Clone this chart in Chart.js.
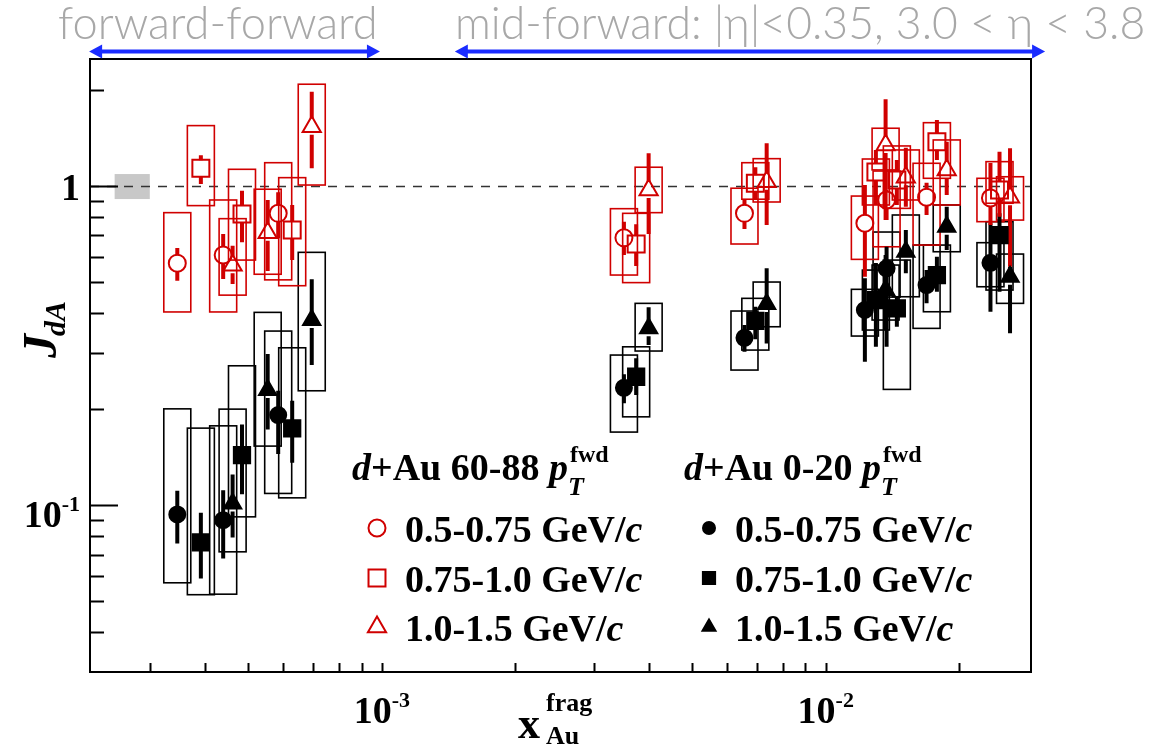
<!DOCTYPE html>
<html>
<head>
<meta charset="utf-8">
<script src="https://cdn.jsdelivr.net/npm/chart.js@4.4.1/dist/chart.umd.min.js"></script>
<style>
  html, body { margin: 0; padding: 0; background: #ffffff; }
  canvas { display: block; }
</style>
</head>
<body>
<canvas id="jdaChart" width="1161" height="747"></canvas>
<script>
// x_Au^frag of each point, shared by the two centralities (same pT bin -> same x)
const xLowPt  = [3.46e-4, 4.39e-4, 5.84e-4, 3.51e-3, 6.56e-3, 1.225e-2, 1.371e-2, 1.687e-2, 2.350e-2];
const xMidPt  = [3.91e-4, 4.84e-4, 6.28e-4, 3.74e-3, 6.94e-3, 1.297e-2, 1.446e-2, 1.780e-2, 2.463e-2];
const xHighPt = [4.61e-4, 5.53e-4, 6.95e-4, 3.99e-3, 7.36e-3, 1.364e-2, 1.515e-2, 1.873e-2, 2.601e-2];

// d+Au 60-88 (peripheral), open red markers; stat = error bar, sys = box
const periphLowY    = [0.573, 0.608, 0.821, 0.688, 0.821, 0.764, 0.904, 0.922, 0.917];
const periphLowStat = [[0.505, 0.639], [0.511, 0.707], [0.686, 0.956], [0.608, 0.773], [0.733, 0.909], [0.520, 1.007], [0.782, 0.972], [0.811, 1.024], [0.755, 1.181]];
const periphLowSys  = [[0.403, 0.825], [0.403, 0.904], [0.508, 1.183], [0.526, 0.849], [0.658, 0.984], [0.589, 0.930], [0.645, 1.114], [0.653, 1.178], [0.773, 1.057]];

const periphMidY    = [1.136, 0.817, 0.728, 0.658, 1.020, 1.106, 1.044, 1.377, 0.972];
const periphMidStat = [[1.015, 1.248], [0.666, 0.967], [0.586, 0.872], [0.561, 0.759], [0.909, 1.145], [0.872, 1.297], [0.872, 1.206], [1.206, 1.610], [0.801, 1.281]];
const periphMidSys  = [[0.868, 1.546], [0.586, 1.128], [0.487, 1.062], [0.498, 0.821], [0.909, 1.183], [0.872, 1.215], [0.851, 1.335], [1.057, 1.579], [0.883, 1.192]];

const periphHighY    = [0.565, 0.714, 1.534, 0.972, 1.032, 1.344, 1.065, 1.123, 0.922];
const periphHighStat = [[0.493, 0.650], [0.542, 0.904], [1.136, 1.975], [0.707, 1.266], [0.755, 1.361], [0.782, 1.870], [0.861, 1.318], [0.937, 1.377], [0.558, 1.313]];
const periphHighSys  = [[0.455, 0.790], [0.529, 0.977], [1.007, 2.084], [0.825, 1.145], [0.891, 1.218], [1.123, 1.517], [0.904, 1.297], [0.872, 1.394], [0.782, 1.069]];

// d+Au 0-20 (central), filled black markers
const centralLowY    = [0.0935, 0.0897, 0.1915, 0.2332, 0.3345, 0.4087, 0.552, 0.4894, 0.5747];
const centralLowStat = [[0.0758, 0.1109], [0.0681, 0.1114], [0.1445, 0.2282], [0.2084, 0.2569], [0.3024, 0.3666], [0.2813, 0.5136], [0.3134, 0.645], [0.4288, 0.5452], [0.4036, 0.7637]];
const centralLowSys  = [[0.0571, 0.2003], [0.0526, 0.1772], [0.1088, 0.3511], [0.1694, 0.2953], [0.265, 0.4057], [0.3387, 0.4745], [0.4487, 0.7174], [0.358, 0.653], [0.4834, 0.6643]];

const centralMidY    = [0.0764, 0.1434, 0.1739, 0.2525, 0.3782, 0.4391, 0.4137, 0.526, 0.702];
const centralMidStat = [[0.0589, 0.0946], [0.1082, 0.179], [0.1357, 0.2123], [0.2212, 0.2884], [0.3307, 0.4185], [0.3134, 0.5735], [0.3622, 0.4497], [0.4663, 0.6003], [0.4663, 0.821]];
const centralMidSys  = [[0.0524, 0.1743], [0.0919, 0.2733], [0.1054, 0.3112], [0.1891, 0.3134], [0.3061, 0.4446], [0.3537, 0.5452], [0.2305, 0.586], [0.4036, 0.653], [0.472, 0.7729]];

const centralHighY    = [0.1012, 0.2293, 0.3802, 0.358, 0.4267, 0.472, 0.6223, 0.7455, 0.5196];
const centralHighStat = [[0.0792, 0.1248], [0.1727, 0.2975], [0.2747, 0.5099], [0.3173, 0.4167], [0.3212, 0.552], [0.3537, 0.6077], [0.5324, 0.728], [0.63, 0.861], [0.3453, 0.558]];
const centralHighSys  = [[0.0714, 0.1999], [0.1531, 0.4018], [0.2282, 0.6196], [0.304, 0.4288], [0.3622, 0.5001], [0.3802, 0.5653], [0.4497, 0.8112], [0.6223, 0.872], [0.4288, 0.612]];

const ptLabels = ['0.5-0.75 GeV/c', '0.75-1.0 GeV/c', '1.0-1.5 GeV/c'];
const xRange = [2.2e-4, 2.9e-2];
const yRange = [0.03, 2.5];
const xLabelTicks = [1e-3, 1e-2];
const xLabelTexts = ['10^-3', '10^-2'];
const yLabelTicks = [0.1, 1];
const yLabelTexts = ['10^-1', '1'];
const normBoxX = [2.5e-4, 3.0e-4];
const normBoxY = [0.91, 1.09];
const regionTexts = ['forward-forward', 'mid-forward: |\u03b7|<0.35, 3.0 < \u03b7 < 3.8'];
const regionSpans = [[2.19e-4, 9.9e-4], [1.46e-3, 3.12e-2]];

const RED = '#d00000';
const BLACK = '#000000';
const SERIF = '"Liberation Serif", "DejaVu Serif", serif';
const BOX_HALF = 13.5;
const BAR_GAP = 8;

function makeSet(label, xs, ys, stat, sys, color, style, filled, r) {
    return {
        label: label,
        data: xs.map((x, i) => ({ x: x, y: ys[i] })),
        stat: stat,
        sys: sys,
        filled: filled,
        pointStyle: style,
        pointRadius: r,
        pointHoverRadius: r,
        pointBorderWidth: 2,
        borderColor: color,
        backgroundColor: filled ? color : 'rgba(0,0,0,0)',
        showLine: false
    };
}

// red first so it is drawn on top
const datasets = [
    makeSet(ptLabels[0], xLowPt, periphLowY, periphLowStat, periphLowSys, RED, 'circle', false, 8.5),
    makeSet(ptLabels[1], xMidPt, periphMidY, periphMidStat, periphMidSys, RED, 'rect', false, 12),
    makeSet(ptLabels[2], xHighPt, periphHighY, periphHighStat, periphHighSys, RED, 'triangle', false, 10.5),
    makeSet(ptLabels[0], xLowPt, centralLowY, centralLowStat, centralLowSys, BLACK, 'circle', true, 8),
    makeSet(ptLabels[1], xMidPt, centralMidY, centralMidStat, centralMidSys, BLACK, 'rect', true, 11.5),
    makeSet(ptLabels[2], xHighPt, centralHighY, centralHighStat, centralHighSys, BLACK, 'triangle', true, 10)
];

function logTicks(min, max) {
    const out = [];
    for (let e = Math.floor(Math.log10(min)); e <= Math.ceil(Math.log10(max)); e++) {
        for (let m = 1; m <= 9; m++) {
            const v = m * Math.pow(10, e);
            if (v > min * 1.001 && v < max * 0.999) out.push({ v: v, major: m === 1 });
        }
    }
    return out;
}

function drawMarker(ctx, style, x, y, r, filled, color) {
    ctx.save();
    ctx.lineWidth = 2;
    ctx.strokeStyle = color;
    ctx.fillStyle = color;
    ctx.beginPath();
    if (style === 'circle') {
        ctx.arc(x, y, r, 0, Math.PI * 2);
    } else if (style === 'rect') {
        const s = r * Math.SQRT1_2;
        ctx.rect(x - s, y - s, 2 * s, 2 * s);
    } else {
        for (let k = 0; k < 3; k++) {
            const a = k * 2 * Math.PI / 3;
            const px = x + Math.sin(a) * r, py = y - Math.cos(a) * r;
            if (k === 0) ctx.moveTo(px, py); else ctx.lineTo(px, py);
        }
        ctx.closePath();
    }
    if (filled) ctx.fill();
    ctx.stroke();
    ctx.restore();
}

// "10^-3" -> 10 with a raised exponent
function drawPower(ctx, text, x, y, align) {
    const parts = text.split('^');
    const baseFont = 'bold 38px ' + SERIF;
    const expFont = 'bold 22px ' + SERIF;
    ctx.font = baseFont;
    const wb = ctx.measureText(parts[0]).width;
    let we = 0;
    if (parts[1]) { ctx.font = expFont; we = ctx.measureText(parts[1]).width; }
    const total = wb + we;
    let left = x;
    if (align === 'center') left = x - total / 2;
    if (align === 'right') left = x - total;
    ctx.textAlign = 'left';
    ctx.font = baseFont;
    ctx.fillText(parts[0], left, y);
    if (parts[1]) { ctx.font = expFont; ctx.fillText(parts[1], left + wb, y - 16); }
}

const backdrop = {
    id: 'backdrop',
    beforeDatasetsDraw(chart) {
        const { ctx, chartArea: a, scales: { x, y } } = chart;
        ctx.save();
        ctx.beginPath();
        ctx.rect(a.left, a.top, a.right - a.left, a.bottom - a.top);
        ctx.clip();

        // normalisation uncertainty
        ctx.fillStyle = '#c8c8c8';
        const bx0 = x.getPixelForValue(normBoxX[0]), bx1 = x.getPixelForValue(normBoxX[1]);
        const by0 = y.getPixelForValue(normBoxY[1]), by1 = y.getPixelForValue(normBoxY[0]);
        ctx.fillRect(bx0, by0, bx1 - bx0, by1 - by0);

        // J = 1 reference
        const y1 = Math.round(y.getPixelForValue(1)) + 0.5;
        ctx.strokeStyle = '#333333';
        ctx.lineWidth = 1.5;
        ctx.setLineDash([9, 8]);
        ctx.beginPath();
        ctx.moveTo(a.left, y1);
        ctx.lineTo(a.right, y1);
        ctx.stroke();
        ctx.setLineDash([]);

        // systematic boxes then stat bars, black series under red
        const order = chart.data.datasets.slice().reverse();
        order.forEach(ds => {
            ctx.strokeStyle = ds.borderColor;
            ctx.lineWidth = 1.6;
            ds.data.forEach((p, i) => {
                const px = x.getPixelForValue(p.x);
                const top = y.getPixelForValue(ds.sys[i][1]);
                const bot = y.getPixelForValue(ds.sys[i][0]);
                ctx.strokeRect(px - BOX_HALF, top, 2 * BOX_HALF, bot - top);
            });
        });
        order.forEach(ds => {
            ctx.strokeStyle = ds.borderColor;
            ctx.lineWidth = 4;
            ds.data.forEach((p, i) => {
                const px = x.getPixelForValue(p.x);
                const py = y.getPixelForValue(p.y);
                const top = y.getPixelForValue(ds.stat[i][1]);
                const bot = y.getPixelForValue(ds.stat[i][0]);
                ctx.beginPath();
                if (top < py - BAR_GAP) { ctx.moveTo(px, top); ctx.lineTo(px, py - BAR_GAP); }
                if (bot > py + BAR_GAP) { ctx.moveTo(px, py + BAR_GAP); ctx.lineTo(px, bot); }
                ctx.stroke();
            });
        });
        ctx.restore();
    }
};

const frame = {
    id: 'frame',
    afterDatasetsDraw(chart) {
        const { ctx, chartArea: a, scales: { x, y } } = chart;
        ctx.save();
        ctx.strokeStyle = '#000000';
        ctx.lineWidth = 2;
        ctx.strokeRect(a.left, a.top, a.right - a.left, a.bottom - a.top);

        ctx.beginPath();
        logTicks(xRange[0], xRange[1]).forEach(t => {
            const px = Math.round(x.getPixelForValue(t.v)) + 0.5;
            ctx.moveTo(px, a.bottom);
            ctx.lineTo(px, a.bottom - 9);
        });
        logTicks(yRange[0], yRange[1]).forEach(t => {
            const py = Math.round(y.getPixelForValue(t.v)) + 0.5;
            ctx.moveTo(a.left, py);
            ctx.lineTo(a.left + (t.major ? 28 : 14), py);
        });
        ctx.stroke();

        // tick labels
        ctx.fillStyle = '#000000';
        ctx.textBaseline = 'alphabetic';
        xLabelTicks.forEach((v, i) => {
            drawPower(ctx, xLabelTexts[i], x.getPixelForValue(v), a.bottom + 51, 'center');
        });
        yLabelTicks.forEach((v, i) => {
            const drop = yLabelTexts[i].indexOf('^') >= 0 ? 22 : 14;
            drawPower(ctx, yLabelTexts[i], a.left - 10, y.getPixelForValue(v) + drop, 'right');
        });

        // axis titles
        ctx.textAlign = 'left';
        ctx.font = 'bold 44px ' + SERIF;
        ctx.fillText('x', 518, 738);
        ctx.font = 'bold 26px ' + SERIF;
        ctx.fillText('frag', 546, 711);
        ctx.fillText('Au', 546, 744);

        ctx.save();
        ctx.translate(56, 358);
        ctx.rotate(-Math.PI / 2);
        ctx.font = 'italic bold 48px ' + SERIF;
        ctx.fillText('J', 0, 0);
        const wj = ctx.measureText('J').width;
        ctx.font = 'italic bold 30px ' + SERIF;
        ctx.fillText('dA', wj - 2, 9);
        ctx.restore();

        // region labels with arrows
        ctx.fillStyle = '#a8a8a8';
        const textLeft = [58, 455];
        const textWidth = [320, 690];
        regionTexts.forEach((t, i) => {
            ctx.font = '300 40px Lato, "Noto Sans", sans-serif';
            const w = ctx.measureText(t).width;
            const size = 40 * textWidth[i] / w;
            ctx.font = '300 ' + size.toFixed(1) + 'px Lato, "Noto Sans", sans-serif';
            ctx.fillText(t, textLeft[i], 39);
        });
        ctx.fillStyle = '#1a2cff';
        ctx.strokeStyle = '#1a2cff';
        ctx.lineWidth = 4;
        regionSpans.forEach(s => {
            const x0 = x.getPixelForValue(s[0]), x1 = x.getPixelForValue(s[1]);
            const ay = 51.5;
            ctx.beginPath();
            ctx.moveTo(x0 + 10, ay);
            ctx.lineTo(x1 - 10, ay);
            ctx.stroke();
            ctx.beginPath();
            ctx.moveTo(x0, ay); ctx.lineTo(x0 + 13, ay - 7); ctx.lineTo(x0 + 13, ay + 7); ctx.closePath();
            ctx.moveTo(x1, ay); ctx.lineTo(x1 - 13, ay - 7); ctx.lineTo(x1 - 13, ay + 7); ctx.closePath();
            ctx.fill();
        });
        ctx.restore();
    }
};

function drawLabel(ctx, text, x, y) {
    ctx.font = 'bold 38px ' + SERIF;
    const head = text.slice(0, -1);
    ctx.fillText(head, x, y);
    const w = ctx.measureText(head).width;
    ctx.font = 'italic bold 38px ' + SERIF;
    ctx.fillText(text.slice(-1), x + w, y);
}

function drawHeader(ctx, cent, x, y) {
    ctx.font = 'italic bold 38px ' + SERIF;
    ctx.fillText('d', x, y);
    let cx = x + ctx.measureText('d').width;
    ctx.font = 'bold 38px ' + SERIF;
    const mid = '+Au ' + cent + ' ';
    ctx.fillText(mid, cx, y);
    cx += ctx.measureText(mid).width;
    ctx.font = 'italic bold 38px ' + SERIF;
    ctx.fillText('p', cx, y);
    cx += ctx.measureText('p').width + 2;
    ctx.font = 'bold 24px ' + SERIF;
    ctx.fillText('fwd', cx, y - 18);
    ctx.font = 'italic bold 26px ' + SERIF;
    ctx.fillText('T', cx - 2, y + 15);
}

const legendBox = {
    id: 'legendBox',
    afterDraw(chart) {
        const ctx = chart.ctx;
        const ds = chart.data.datasets;
        const cols = [{ head: '60-88', hx: 352, mx: 377, tx: 405, sets: ds.slice(0, 3) },
                      { head: '0-20', hx: 684, mx: 709, tx: 735, sets: ds.slice(3, 6) }];
        const rowY = [528, 578, 627];
        ctx.save();
        ctx.fillStyle = '#000000';
        ctx.textAlign = 'left';
        ctx.textBaseline = 'alphabetic';
        cols.forEach(c => {
            ctx.fillStyle = '#000000';
            drawHeader(ctx, c.head, c.hx, 480);
            c.sets.forEach((s, i) => {
                const r = s.filled ? s.pointRadius * 0.75 : s.pointRadius;
                drawMarker(ctx, s.pointStyle, c.mx, rowY[i], r, s.filled, s.borderColor);
                ctx.fillStyle = '#000000';
                drawLabel(ctx, s.label, c.tx, rowY[i] + 14);
            });
        });
        ctx.restore();
    }
};

new Chart(document.getElementById('jdaChart').getContext('2d'), {
    type: 'scatter',
    data: { datasets: datasets },
    options: {
        responsive: false,
        animation: false,
        layout: { padding: { left: 90, right: 130, top: 59, bottom: 75 } },
        plugins: { legend: { display: false }, tooltip: { enabled: false } },
        scales: {
            x: { type: 'logarithmic', min: xRange[0], max: xRange[1], display: false },
            y: { type: 'logarithmic', min: yRange[0], max: yRange[1], display: false }
        }
    },
    plugins: [backdrop, frame, legendBox]
});
</script>
</body>
</html>
